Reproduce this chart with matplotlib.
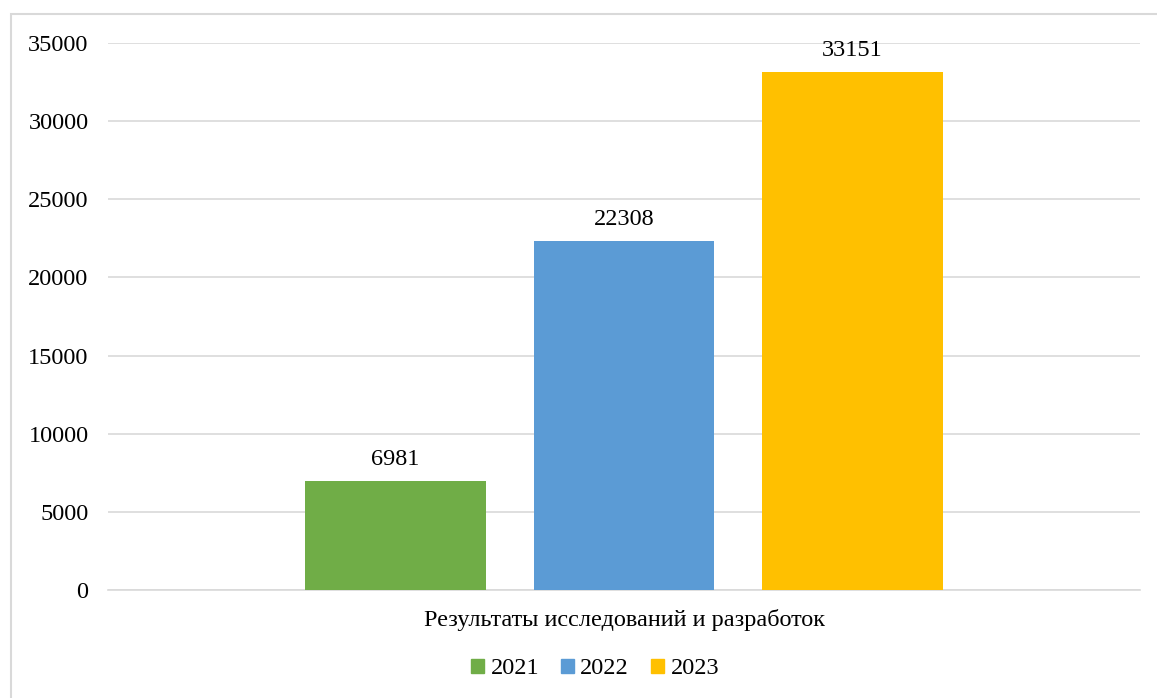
import matplotlib.pyplot as plt
from matplotlib.patches import Patch, Rectangle

years = ['2021', '2022', '2023']
values = [6981, 22308, 33151]
colors = ['#70AD47', '#5B9BD5', '#FFC000']
category = 'Результаты исследований и разработок'
yticks = [0, 5000, 10000, 15000, 20000, 25000, 30000, 35000]

plt.rcParams['font.family'] = ['Liberation Serif', 'DejaVu Serif']
fs = 17.5

fig = plt.figure(figsize=(11.57, 6.98), dpi=100)
ax = fig.add_axes([108 / 1157, 1 - 590 / 698, 1032 / 1157, 547 / 698])

pos = [-1, 0, 1]
bars = ax.bar(pos, values, width=0.792, color=colors, zorder=3)
for b, v in zip(bars, values):
    ax.annotate(str(v), (b.get_x() + b.get_width() / 2, v), xytext=(0, 8),
                textcoords='offset points', ha='center', va='bottom', fontsize=fs)

ax.set_xlim(-2.258, 2.258)
ax.set_ylim(0, 35000)
ax.set_yticks(yticks)
ax.set_yticklabels([str(t) for t in yticks], fontsize=fs)
ax.set_xticks([])
ax.tick_params(axis='y', length=0, pad=14)
ax.grid(axis='y', color='#d9d9d9', linewidth=1.2, zorder=0)
for s in ['top', 'right', 'left']:
    ax.spines[s].set_visible(False)
ax.spines['bottom'].set_color('#d9d9d9')
ax.spines['bottom'].set_linewidth(1.2)

fig.text(0.5 + (624 - 578.5) / 1157, 1 - 620 / 698, category, ha='center', va='center', fontsize=fs)

handles = [Patch(color=c, label=y) for c, y in zip(colors, years)]
fig.legend(handles=handles, loc='center', bbox_to_anchor=(595 / 1157, 1 - 669 / 698),
           ncol=3, frameon=False, fontsize=fs, handlelength=0.55, handleheight=0.55,
           handletextpad=0.25, columnspacing=0.9)

fig.add_artist(Rectangle((10.5 / 1157, -0.05), 1.2, 1 - 13.5 / 698 + 0.05,
                         transform=fig.transFigure, fill=False,
                         edgecolor='#d9d9d9', linewidth=1.5))

fig.savefig('out.png', dpi=100)
